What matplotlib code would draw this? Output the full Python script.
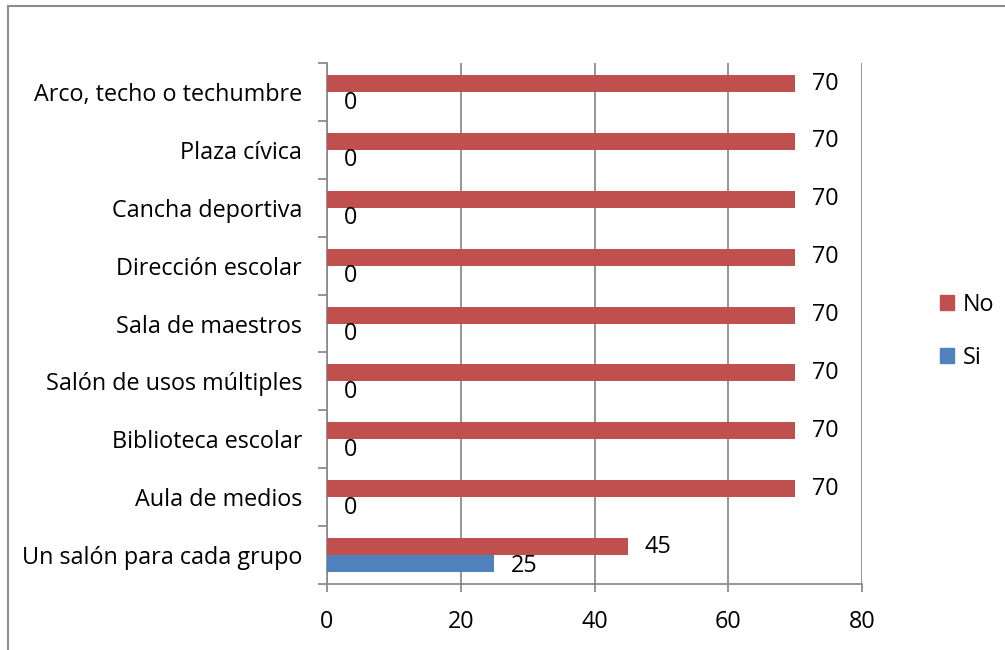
import matplotlib.pyplot as plt
import numpy as np
from matplotlib.patches import Rectangle, Patch
from matplotlib.ticker import FixedLocator

categorias = ['Un salón para cada grupo', 'Aula de medios', 'Biblioteca escolar',
              'Salón de usos múltiples', 'Sala de maestros', 'Dirección escolar',
              'Cancha deportiva', 'Plaza cívica', 'Arco, techo o techumbre']
si = [25, 0, 0, 0, 0, 0, 0, 0, 0]
no = [45, 70, 70, 70, 70, 70, 70, 70, 70]

rojo = '#C0504D'
azul = '#4F81BD'
gris = '#8C8C8C'

plt.rcParams['font.family'] = ['Open Sans', 'DejaVu Sans']
fs = 16.8

fig = plt.figure(figsize=(10.05, 6.5), dpi=100)
ax = fig.add_axes([0.3254, 0.1015, 0.5323, 0.8015])

y = np.arange(len(categorias))
h = 0.293
ax.barh(y - h / 2, si, height=h, color=azul, label='Si', zorder=3)
ax.barh(y + h / 2, no, height=h, color=rojo, label='No', zorder=3)

for yi, v in zip(y, si):
    ax.annotate(str(v), (v, yi - h / 2), xytext=(12, -1.5), textcoords='offset points',
                va='center', ha='left', fontsize=fs)
for yi, v in zip(y, no):
    ax.annotate(str(v), (v, yi + h / 2), xytext=(12, 0), textcoords='offset points',
                va='center', ha='left', fontsize=fs)

ax.set_xlim(0, 80)
ax.set_ylim(-0.5, len(categorias) - 0.5)
ax.set_xticks([0, 20, 40, 60, 80])
ax.set_yticks(y)
ax.set_yticklabels(categorias)
ax.yaxis.set_minor_locator(FixedLocator(np.arange(-0.5, len(categorias), 1)))

ax.grid(axis='x', color=gris, linewidth=1.3, zorder=0)
for s in ['top', 'right']:
    ax.spines[s].set_visible(False)
for s in ['left', 'bottom']:
    ax.spines[s].set_color(gris)
    ax.spines[s].set_linewidth(1.3)

ax.tick_params(axis='y', which='major', length=0, pad=18, labelsize=fs)
ax.tick_params(axis='y', which='minor', length=6.5, width=1.3, color=gris)
ax.tick_params(axis='x', which='major', length=6, width=1.3, color=gris,
               pad=13, labelsize=fs)

handles = [Patch(color=rojo, label='No'), Patch(color=azul, label='Si')]
fig.legend(handles=handles, loc='center left', bbox_to_anchor=(0.914, 0.49),
           frameon=False, fontsize=fs, handlelength=0.6, handleheight=0.6,
           handletextpad=0.4, labelspacing=1.25)

# marco exterior del gráfico
fig.patches.append(Rectangle((8 / 1005, -0.01), 1.0, 1 - 6 / 650 + 0.01,
                             transform=fig.transFigure, fill=False,
                             edgecolor=gris, linewidth=1.5))

fig.savefig('out.png', dpi=100)
